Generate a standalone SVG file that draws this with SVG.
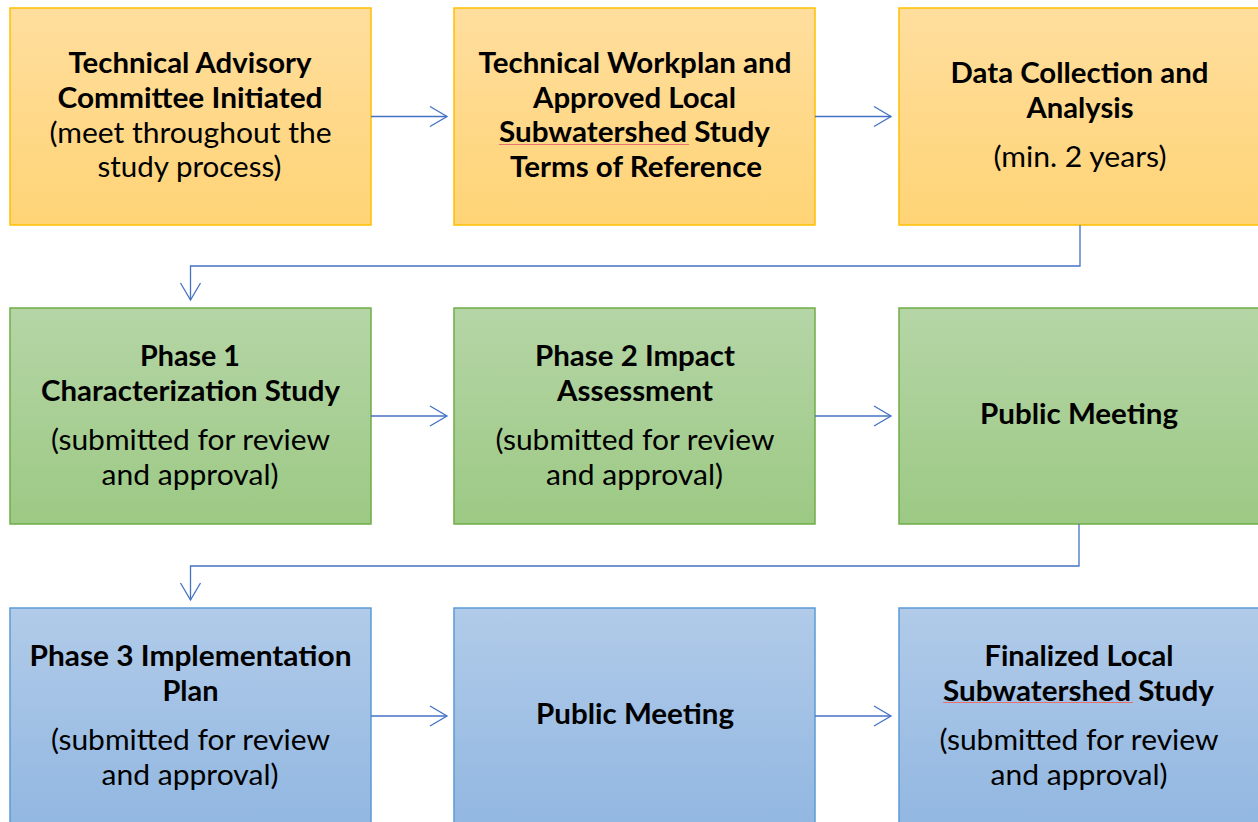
<svg xmlns="http://www.w3.org/2000/svg" width="1258" height="822" viewBox="0 0 1258 822">
<defs>
<linearGradient id="gOr" x1="0" y1="0" x2="0" y2="1"><stop offset="0" stop-color="#FFDE9E"/><stop offset="1" stop-color="#FFD476"/></linearGradient>
<linearGradient id="gGr" x1="0" y1="0" x2="0" y2="1"><stop offset="0" stop-color="#B5D5A6"/><stop offset="1" stop-color="#9CC984"/></linearGradient>
<linearGradient id="gBl" x1="0" y1="0" x2="0" y2="1"><stop offset="0" stop-color="#B1CBE9"/><stop offset="1" stop-color="#92B7E1"/></linearGradient>
<marker id="arr" markerUnits="userSpaceOnUse" viewBox="-19 -12 21 24" refX="0" refY="0" markerWidth="21" markerHeight="24" orient="auto">
<path d="M-17,-10 L0,0 L-17,10" fill="none" stroke="#4472C4" stroke-width="1.3"/>
</marker>
<style>
.or{fill:url(#gOr);stroke:#FFC000;stroke-width:1.5}
.gr{fill:url(#gGr);stroke:#70AD47;stroke-width:1.5}
.bl{fill:url(#gBl);stroke:#5B9BD5;stroke-width:1.5}
text{font-family:Lato,"Open Sans","Liberation Sans",sans-serif;font-size:28px;fill:#000;text-anchor:middle}
.b{font-weight:bold}
.c{fill:none;stroke:#4472C4;stroke-width:1.3}
.sq{stroke:#E8716D;stroke-width:1;fill:none}
</style>
</defs>
<rect width="1258" height="822" fill="#fff"/>
<g id="n1"><rect class="or" x="10" y="8" width="361" height="217"/>
<text x="190" y="72.5" class="b" textLength="243" lengthAdjust="spacingAndGlyphs">Technical Advisory</text>
<text x="190" y="107.5" class="b" textLength="265" lengthAdjust="spacingAndGlyphs">Committee Initiated</text>
<text x="190.5" y="142.5" textLength="282" lengthAdjust="spacingAndGlyphs">(meet throughout the</text>
<text x="189.5" y="177" textLength="184" lengthAdjust="spacingAndGlyphs">study process)</text></g>
<g id="n2"><rect class="or" x="454" y="8" width="361" height="217"/>
<text x="635" y="72.5" class="b" textLength="313" lengthAdjust="spacingAndGlyphs">Technical Workplan and</text>
<text x="634.5" y="107.5" class="b" textLength="203" lengthAdjust="spacingAndGlyphs">Approved Local</text>
<text x="634.5" y="142" class="b" textLength="271" lengthAdjust="spacingAndGlyphs">Subwatershed Study</text>
<text x="636" y="177" class="b" textLength="252" lengthAdjust="spacingAndGlyphs">Terms of Reference</text>
<path class="sq" d="M499,144.5 L689,144.5"/></g>
<g id="n3"><rect class="or" x="899" y="8" width="361" height="217"/>
<text x="1079.5" y="83" class="b" textLength="258" lengthAdjust="spacingAndGlyphs">Data Collection and</text>
<text x="1080" y="118" class="b" textLength="107" lengthAdjust="spacingAndGlyphs">Analysis</text>
<text x="1080" y="167" textLength="173" lengthAdjust="spacingAndGlyphs">(min. 2 years)</text></g>
<g id="n4"><rect class="gr" x="10" y="308" width="361" height="216"/>
<text x="190" y="366" class="b" textLength="100" lengthAdjust="spacingAndGlyphs">Phase 1</text>
<text x="190.5" y="400.5" class="b" textLength="299" lengthAdjust="spacingAndGlyphs">Characterization Study</text>
<text x="190.5" y="450" textLength="279" lengthAdjust="spacingAndGlyphs">(submitted for review</text>
<text x="190" y="485" textLength="177" lengthAdjust="spacingAndGlyphs">and approval)</text></g>
<g id="n5"><rect class="gr" x="454" y="308" width="361" height="216"/>
<text x="635" y="366" class="b" textLength="200" lengthAdjust="spacingAndGlyphs">Phase 2 Impact</text>
<text x="635" y="400.5" class="b" textLength="156" lengthAdjust="spacingAndGlyphs">Assessment</text>
<text x="635" y="450" textLength="279" lengthAdjust="spacingAndGlyphs">(submitted for review</text>
<text x="634.5" y="485" textLength="177" lengthAdjust="spacingAndGlyphs">and approval)</text></g>
<g id="n6"><rect class="gr" x="899" y="308" width="361" height="216"/>
<text x="1079" y="424" class="b" textLength="198" lengthAdjust="spacingAndGlyphs">Public Meeting</text></g>
<g id="n7"><rect class="bl" x="10" y="608" width="361" height="216"/>
<text x="190.5" y="666" class="b" textLength="322" lengthAdjust="spacingAndGlyphs">Phase 3 Implementation</text>
<text x="190.5" y="700.5" class="b" textLength="56" lengthAdjust="spacingAndGlyphs">Plan</text>
<text x="190.5" y="750" textLength="279" lengthAdjust="spacingAndGlyphs">(submitted for review</text>
<text x="190" y="785" textLength="177" lengthAdjust="spacingAndGlyphs">and approval)</text></g>
<g id="n8"><rect class="bl" x="454" y="608" width="361" height="216"/>
<text x="635" y="724" class="b" textLength="198" lengthAdjust="spacingAndGlyphs">Public Meeting</text></g>
<g id="n9"><rect class="bl" x="899" y="608" width="361" height="216"/>
<text x="1079" y="666" class="b" textLength="189" lengthAdjust="spacingAndGlyphs">Finalized Local</text>
<text x="1078.5" y="700.5" class="b" textLength="271" lengthAdjust="spacingAndGlyphs">Subwatershed Study</text>
<text x="1079" y="750" textLength="279" lengthAdjust="spacingAndGlyphs">(submitted for review</text>
<text x="1079" y="785" textLength="177" lengthAdjust="spacingAndGlyphs">and approval)</text>
<path class="sq" d="M943,702.5 L1133,702.5"/></g>
<g id="connectors">
<path class="c" d="M371,116.5 H447" marker-end="url(#arr)"/>
<path class="c" d="M815,116.5 H891" marker-end="url(#arr)"/>
<path class="c" d="M1080,225 V266 H190.5 V300" marker-end="url(#arr)"/>
<path class="c" d="M371,416 H447" marker-end="url(#arr)"/>
<path class="c" d="M815,416 H891" marker-end="url(#arr)"/>
<path class="c" d="M1079,524 V566 H190.5 V600" marker-end="url(#arr)"/>
<path class="c" d="M371,716 H447" marker-end="url(#arr)"/>
<path class="c" d="M815,716 H891" marker-end="url(#arr)"/>
</g>
</svg>
